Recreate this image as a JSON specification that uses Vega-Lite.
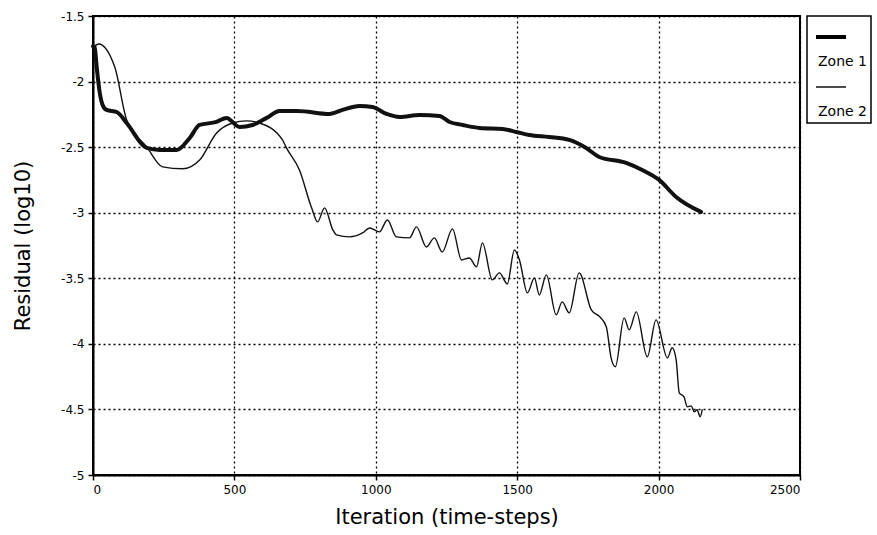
{
  "$schema": "https://vega.github.io/schema/vega-lite/v6.json",
  "width": 707,
  "height": 459,
  "autosize": {"type": "none"},
  "padding": {"left": 93, "top": 16, "right": 77, "bottom": 60},
  "background": "white",
  "config": {
    "font": "DejaVu Sans",
    "view": {"stroke": "black", "strokeWidth": 2},
    "axis": {
      "domainColor": "black", "domainWidth": 2,
      "tickColor": "black", "tickWidth": 1.5, "tickSize": 5,
      "gridColor": "black", "gridDash": [2, 3], "gridWidth": 1.3, "gridOpacity": 1,
      "labelColor": "black", "labelFontSize": 12, "labelFont": "DejaVu Sans",
      "titleColor": "black", "titleFontSize": 21, "titleFontWeight": "normal", "titleFont": "DejaVu Sans"
    }
  },
  "data": {"values": [
    {"zone": "Zone 1", "it": 0, "r": -1.73},
    {"zone": "Zone 1", "it": 6, "r": -1.736},
    {"zone": "Zone 1", "it": 13, "r": -1.889},
    {"zone": "Zone 1", "it": 24, "r": -2.087},
    {"zone": "Zone 1", "it": 34, "r": -2.178},
    {"zone": "Zone 1", "it": 48, "r": -2.216},
    {"zone": "Zone 1", "it": 84, "r": -2.232},
    {"zone": "Zone 1", "it": 119, "r": -2.316},
    {"zone": "Zone 1", "it": 190, "r": -2.506},
    {"zone": "Zone 1", "it": 236, "r": -2.521},
    {"zone": "Zone 1", "it": 296, "r": -2.521},
    {"zone": "Zone 1", "it": 342, "r": -2.43},
    {"zone": "Zone 1", "it": 377, "r": -2.331},
    {"zone": "Zone 1", "it": 437, "r": -2.308},
    {"zone": "Zone 1", "it": 472, "r": -2.277},
    {"zone": "Zone 1", "it": 518, "r": -2.346},
    {"zone": "Zone 1", "it": 564, "r": -2.331},
    {"zone": "Zone 1", "it": 614, "r": -2.277},
    {"zone": "Zone 1", "it": 660, "r": -2.224},
    {"zone": "Zone 1", "it": 723, "r": -2.224},
    {"zone": "Zone 1", "it": 836, "r": -2.247},
    {"zone": "Zone 1", "it": 882, "r": -2.216},
    {"zone": "Zone 1", "it": 942, "r": -2.186},
    {"zone": "Zone 1", "it": 988, "r": -2.194},
    {"zone": "Zone 1", "it": 1038, "r": -2.247},
    {"zone": "Zone 1", "it": 1084, "r": -2.27},
    {"zone": "Zone 1", "it": 1155, "r": -2.255},
    {"zone": "Zone 1", "it": 1225, "r": -2.262},
    {"zone": "Zone 1", "it": 1261, "r": -2.308},
    {"zone": "Zone 1", "it": 1307, "r": -2.331},
    {"zone": "Zone 1", "it": 1367, "r": -2.354},
    {"zone": "Zone 1", "it": 1448, "r": -2.361},
    {"zone": "Zone 1", "it": 1497, "r": -2.384},
    {"zone": "Zone 1", "it": 1543, "r": -2.407},
    {"zone": "Zone 1", "it": 1613, "r": -2.422},
    {"zone": "Zone 1", "it": 1684, "r": -2.445},
    {"zone": "Zone 1", "it": 1744, "r": -2.506},
    {"zone": "Zone 1", "it": 1790, "r": -2.575},
    {"zone": "Zone 1", "it": 1885, "r": -2.62},
    {"zone": "Zone 1", "it": 1942, "r": -2.674},
    {"zone": "Zone 1", "it": 2002, "r": -2.75},
    {"zone": "Zone 1", "it": 2062, "r": -2.88},
    {"zone": "Zone 1", "it": 2150, "r": -2.994},
    {"zone": "Zone 2", "it": 2, "r": -1.736},
    {"zone": "Zone 2", "it": 20, "r": -1.713},
    {"zone": "Zone 2", "it": 77, "r": -1.889},
    {"zone": "Zone 2", "it": 119, "r": -2.293},
    {"zone": "Zone 2", "it": 190, "r": -2.498},
    {"zone": "Zone 2", "it": 246, "r": -2.65},
    {"zone": "Zone 2", "it": 317, "r": -2.665},
    {"zone": "Zone 2", "it": 377, "r": -2.598},
    {"zone": "Zone 2", "it": 437, "r": -2.392},
    {"zone": "Zone 2", "it": 494, "r": -2.316},
    {"zone": "Zone 2", "it": 543, "r": -2.3},
    {"zone": "Zone 2", "it": 589, "r": -2.316},
    {"zone": "Zone 2", "it": 670, "r": -2.445},
    {"zone": "Zone 2", "it": 684, "r": -2.506},
    {"zone": "Zone 2", "it": 730, "r": -2.674},
    {"zone": "Zone 2", "it": 773, "r": -2.963},
    {"zone": "Zone 2", "it": 794, "r": -3.07},
    {"zone": "Zone 2", "it": 819, "r": -2.963},
    {"zone": "Zone 2", "it": 848, "r": -3.131},
    {"zone": "Zone 2", "it": 861, "r": -3.169},
    {"zone": "Zone 2", "it": 907, "r": -3.184},
    {"zone": "Zone 2", "it": 953, "r": -3.154},
    {"zone": "Zone 2", "it": 978, "r": -3.116},
    {"zone": "Zone 2", "it": 1013, "r": -3.146},
    {"zone": "Zone 2", "it": 1041, "r": -3.055},
    {"zone": "Zone 2", "it": 1073, "r": -3.184},
    {"zone": "Zone 2", "it": 1119, "r": -3.192},
    {"zone": "Zone 2", "it": 1144, "r": -3.108},
    {"zone": "Zone 2", "it": 1179, "r": -3.261},
    {"zone": "Zone 2", "it": 1207, "r": -3.192},
    {"zone": "Zone 2", "it": 1235, "r": -3.299},
    {"zone": "Zone 2", "it": 1271, "r": -3.123},
    {"zone": "Zone 2", "it": 1303, "r": -3.36},
    {"zone": "Zone 2", "it": 1331, "r": -3.345},
    {"zone": "Zone 2", "it": 1356, "r": -3.413},
    {"zone": "Zone 2", "it": 1377, "r": -3.23},
    {"zone": "Zone 2", "it": 1412, "r": -3.512},
    {"zone": "Zone 2", "it": 1437, "r": -3.459},
    {"zone": "Zone 2", "it": 1465, "r": -3.543},
    {"zone": "Zone 2", "it": 1490, "r": -3.284},
    {"zone": "Zone 2", "it": 1508, "r": -3.36},
    {"zone": "Zone 2", "it": 1536, "r": -3.611},
    {"zone": "Zone 2", "it": 1561, "r": -3.497},
    {"zone": "Zone 2", "it": 1578, "r": -3.627},
    {"zone": "Zone 2", "it": 1603, "r": -3.474},
    {"zone": "Zone 2", "it": 1638, "r": -3.779},
    {"zone": "Zone 2", "it": 1659, "r": -3.68},
    {"zone": "Zone 2", "it": 1684, "r": -3.764},
    {"zone": "Zone 2", "it": 1719, "r": -3.459},
    {"zone": "Zone 2", "it": 1762, "r": -3.741},
    {"zone": "Zone 2", "it": 1790, "r": -3.79},
    {"zone": "Zone 2", "it": 1815, "r": -3.87},
    {"zone": "Zone 2", "it": 1832, "r": -4.107},
    {"zone": "Zone 2", "it": 1847, "r": -4.175},
    {"zone": "Zone 2", "it": 1878, "r": -3.802},
    {"zone": "Zone 2", "it": 1896, "r": -3.893},
    {"zone": "Zone 2", "it": 1921, "r": -3.756},
    {"zone": "Zone 2", "it": 1960, "r": -4.099},
    {"zone": "Zone 2", "it": 1991, "r": -3.817},
    {"zone": "Zone 2", "it": 2031, "r": -4.107},
    {"zone": "Zone 2", "it": 2048, "r": -4.03},
    {"zone": "Zone 2", "it": 2062, "r": -4.12},
    {"zone": "Zone 2", "it": 2073, "r": -4.373},
    {"zone": "Zone 2", "it": 2090, "r": -4.404},
    {"zone": "Zone 2", "it": 2101, "r": -4.48},
    {"zone": "Zone 2", "it": 2115, "r": -4.473},
    {"zone": "Zone 2", "it": 2126, "r": -4.518},
    {"zone": "Zone 2", "it": 2136, "r": -4.503},
    {"zone": "Zone 2", "it": 2147, "r": -4.556},
    {"zone": "Zone 2", "it": 2154, "r": -4.503}
  ]},
  "mark": {"type": "line", "color": "#111", "strokeJoin": "round", "strokeCap": "round", "interpolate": "monotone"},
  "encoding": {
    "x": {
      "field": "it", "type": "quantitative",
      "scale": {"domain": [0, 2500], "nice": false},
      "axis": {"values": [0, 500, 1000, 1500, 2000, 2500], "format": "d", "title": "Iteration (time-steps)", "labelPadding": 4, "titlePadding": 11}
    },
    "y": {
      "field": "r", "type": "quantitative",
      "scale": {"domain": [-5, -1.5], "nice": false, "zero": false},
      "axis": {"values": [-5, -4.5, -4, -3.5, -3, -2.5, -2, -1.5], "labelExpr": "'' + datum.value", "title": "Residual (log10)", "labelPadding": 4, "titlePadding": 27}
    },
    "strokeWidth": {
      "field": "zone", "type": "nominal",
      "scale": {"domain": ["Zone 1", "Zone 2"], "range": [4, 1.4]},
      "legend": {
        "orient": "none", "legendX": 714, "legendY": 0,
        "title": null,
        "symbolType": "stroke", "symbolSize": 900, "symbolStrokeColor": "black",
        "symbolOffset": 3,
        "labelFontSize": 14, "labelColor": "black", "labelFont": "DejaVu Sans",
        "labelOffset": -30,
        "rowPadding": 2,
        "padding": 4,
        "fillColor": "white", "strokeColor": "black",
        "encode": {
          "labels": {"update": {"dy": {"value": 25}}},
          "entries": {"update": {"width": {"value": 57}, "fill": {"value": "white"}}},
          "legend": {"update": {"strokeWidth": {"value": 1.5}}}
        }
      }
    },
    "detail": {"field": "zone"}
  }
}
